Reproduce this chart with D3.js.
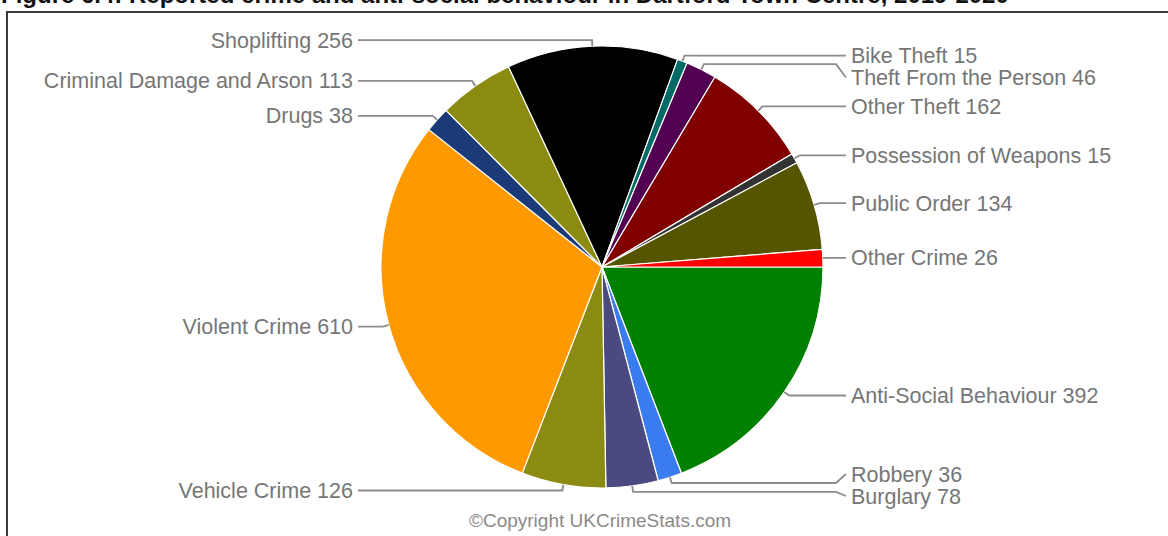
<!DOCTYPE html>
<html>
<head>
<meta charset="utf-8">
<script src="https://cdn.jsdelivr.net/npm/d3@7"></script>
<style>
  html, body { margin: 0; padding: 0; background: #fff; }
  svg { display: block; }
</style>
</head>
<body>
<svg id="chart" width="1168" height="536"></svg>
<script>
// Reported crime categories, in drawing order (clockwise from 3 o'clock)
const categories = [
  "Anti-Social Behaviour", "Robbery", "Burglary", "Vehicle Crime",
  "Violent Crime", "Drugs", "Criminal Damage and Arson", "Shoplifting",
  "Bike Theft", "Theft From the Person", "Other Theft",
  "Possession of Weapons", "Public Order", "Other Crime"
];
const counts = [392, 36, 78, 126, 610, 38, 113, 256, 15, 46, 162, 15, 134, 26];
const sliceColors = [
  "#008000", "#3a7cf0", "#4a4a80", "#8b8b12",
  "#ff9900", "#1a3a78", "#8b8b12", "#000000",
  "#006a66", "#520052", "#800000",
  "#333333", "#555500", "#ff0000"
];
const titleText = "Figure 6.4: Reported crime and anti-social behaviour in Dartford Town Centre, 2019-2020";
const creditText = "\u00A9Copyright UKCrimeStats.com";

const data = categories.map((c, i) => ({ name: c, value: counts[i], color: sliceColors[i] }));

const svg = d3.select("#chart");
const W = 1168, H = 536;
const cx = 602, cy = 267, r = 221;
const rElbow = 227;          // radius where leaders turn horizontal
const lineGap = 23;          // from pie edge to leader end
const textGap = 28;          // from pie edge to label text
const labelSpacing = 22;
const labelMaxY = cy + r + 8;

// Figure title (runs above the top edge) and frame
svg.append("text")
  .attr("x", 1).attr("y", 3)
  .attr("font-family", "Liberation Sans, Arial, sans-serif")
  .attr("font-weight", "bold")
  .attr("font-size", 24)
  .attr("fill", "#111")
  .text(titleText);

svg.append("rect")
  .attr("x", 7).attr("y", 12)
  .attr("width", W + 10).attr("height", H + 10)
  .attr("fill", "none")
  .attr("stroke", "#3a3a3a")
  .attr("stroke-width", 2);

const pie = d3.pie()
  .value(d => d.value)
  .sort(null)
  .startAngle(Math.PI / 2)
  .endAngle(Math.PI / 2 + 2 * Math.PI);

const arcs = pie(data);
const arc = d3.arc().innerRadius(0).outerRadius(r);

const g = svg.append("g").attr("transform", `translate(${cx},${cy})`);

g.selectAll("path.slice")
  .data(arcs)
  .join("path")
  .attr("class", "slice")
  .attr("d", arc)
  .attr("fill", d => d.data.color)
  .attr("stroke", "#ffffff")
  .attr("stroke-width", 1.2)
  .attr("stroke-linejoin", "round");

// Label placement: elbow point on each slice's mid-angle, labels stacked per side
const labels = arcs.map(d => {
  const a = (d.startAngle + d.endAngle) / 2;
  const s = Math.sin(a), c = Math.cos(a);
  return {
    d,
    side: s >= 0 ? 1 : -1,
    ax: r * s, ay: -r * c,
    ex: rElbow * s, ey: -rElbow * c,
    ly: -rElbow * c
  };
});

[1, -1].forEach(side => {
  const group = labels.filter(l => l.side === side).sort((a, b) => a.ey - b.ey);
  for (let i = 1; i < group.length; i++) {
    group[i].ly = Math.max(group[i].ly, group[i - 1].ly + labelSpacing);
  }
  const maxY = labelMaxY - cy;
  if (group.length && group[group.length - 1].ly > maxY) {
    group[group.length - 1].ly = maxY;
    for (let i = group.length - 2; i >= 0; i--) {
      group[i].ly = Math.min(group[i].ly, group[i + 1].ly - labelSpacing);
    }
  }
});

const lineEnd = r + lineGap;
const textX = r + textGap;

g.selectAll("path.leader")
  .data(labels)
  .join("path")
  .attr("class", "leader")
  .attr("fill", "none")
  .attr("stroke", "#8c8c8c")
  .attr("stroke-width", 1.8)
  .attr("d", l => {
    const endX = l.side * lineEnd;
    const pts = [[l.ax, l.ay], [l.ex, l.ey]];
    if (Math.abs(l.ly - l.ey) > 0.5) {
      pts.push([endX - l.side * 10, l.ey]);
    }
    pts.push([endX, l.ly]);
    return d3.line()(pts);
  });

g.selectAll("text.label")
  .data(labels)
  .join("text")
  .attr("class", "label")
  .attr("x", l => l.side * textX)
  .attr("y", l => l.ly)
  .attr("dy", "0.35em")
  .attr("text-anchor", l => l.side > 0 ? "start" : "end")
  .attr("font-family", "Liberation Sans, Arial, sans-serif")
  .attr("font-size", 21.5)
  .attr("fill", "#767676")
  .text(l => `${l.d.data.name} ${l.d.data.value}`);

svg.append("text")
  .attr("x", 600).attr("y", 527)
  .attr("text-anchor", "middle")
  .attr("font-family", "Liberation Sans Narrow, Liberation Sans, Arial, sans-serif")
  .attr("font-size", 19)
  .attr("fill", "#8a8a8a")
  .text(creditText);
</script>
</body>
</html>
